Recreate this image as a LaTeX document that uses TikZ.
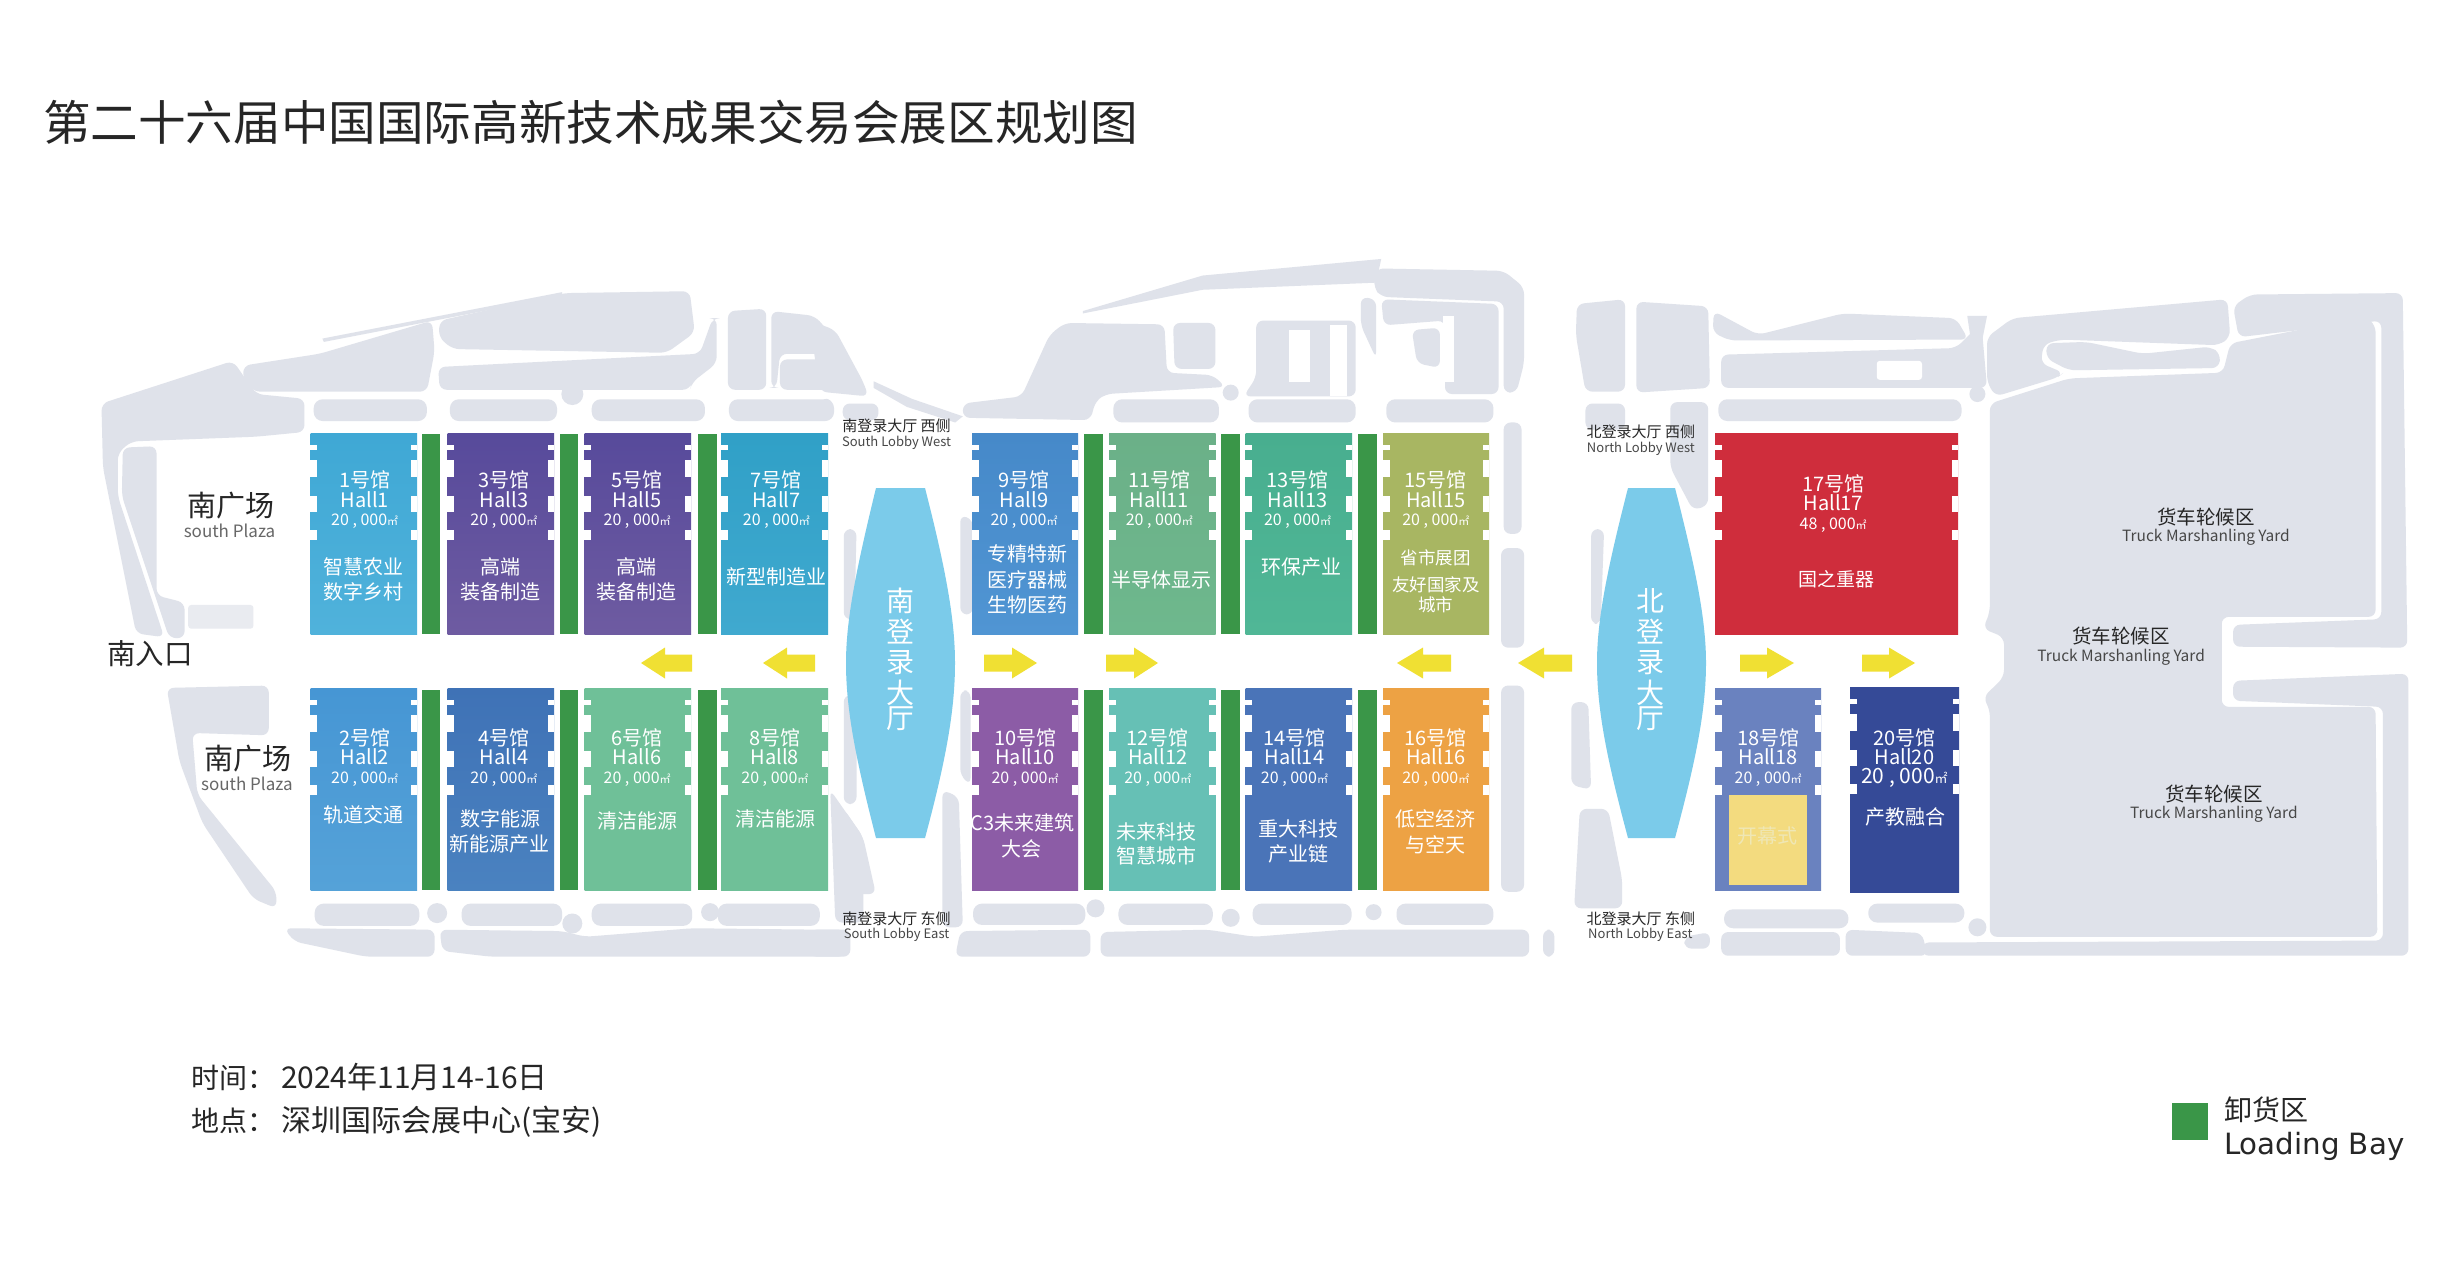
\documentclass[tikz,border=0pt]{standalone}
\usepackage{fontspec}
\setmainfont{Noto Sans CJK SC}
\newfontfamily\dejavu{DejaVu Sans}
\definecolor{plan}{HTML}{DFE2EA}
\definecolor{bar}{HTML}{3A9648}
\definecolor{lobby}{HTML}{7BCBEA}
\definecolor{arrowy}{HTML}{F0E033}
\definecolor{ink}{HTML}{262626}
\definecolor{stagefill}{HTML}{F3DB7F}
\definecolor{stagetext}{HTML}{EFE7B5}
\newcounter{nn}
\tikzset{
  pl/.style={fill=plan,draw=none,rounded corners=7pt},
  pill/.style={fill=plan,draw=none,rounded corners=9pt},
  txt/.style={inner sep=0pt,outer sep=0pt,align=center},
  hallbox/.style={anchor=north west,inner sep=0pt,outer sep=0pt,draw=none},
  barbox/.style={anchor=north west,inner sep=0pt,outer sep=0pt,draw=none,fill=bar},
}
\newcommand\tx[5]{\stepcounter{nn}\node[txt,text=#1] (t\thenn) at (#3,#4) {\fontsize{#2}{#2}\selectfont #5};}
\newcommand\hallrect[7]{% name x1 y1 x2 y2 top bottom
  \definecolor{hc1}{HTML}{#6}\definecolor{hc2}{HTML}{#7}%
  \node[hallbox,top color=hc1,bottom color=hc2,minimum width=#4 pt-#2 pt,minimum height=#5 pt-#3 pt] (#1) at (#2,#3) {};
  \foreach \a/\b in {12/17,27/44,63/79,97/107}{
    \fill[white] (#2-.1,#3+\a) rectangle (#2+6.5,#3+\b);
    \fill[white] (#4+.1,#3+\a) rectangle (#4-6.5,#3+\b);
  }}
\newcommand\barb[2]{\stepcounter{nn}\node[barbox,minimum width=18.5pt,minimum height=200pt] (b\thenn) at (#1,#2) {};}
\newcommand\head[6]{%
  \tx{white}{20}{#1}{#2}{#5号馆}
  \tx{white}{20}{#1}{#3}{Hall#5}
  \tx{white}{16}{#1}{#4}{#6 , 000{\fontsize{11}{11}\selectfont ㎡}}}
\newcommand\arrL[3]{\fill[arrowy] (#3,663) -- (#2,647.5) -- (#2,654.5) -- (#1,654.5) -- (#1,671.5) -- (#2,671.5) -- (#2,678.5) -- cycle;}
\begin{document}
\begin{tikzpicture}[x=1pt,y=-1pt]
\useasboundingbox (0,0) rectangle (2447,1279);
\fill[white] (0,0) rectangle (2447,1279);

%% ---------- site plan, zone 1
\begin{scope}[shift={(80,240)},x=0.5102pt,y=-0.474pt]
\fill[pl] (42,345) -- (300,255) -- (345,325) -- (440,335) -- (440,405) -- (345,415) -- (100,425) -- (74,450) -- (74,540) -- (165,838) -- (110,830) -- (45,480) -- cycle;
\fill[pl] (84,438) -- (150,435) -- (150,750) -- (205,765) -- (205,840) -- (175,840) -- (82,540) -- cycle;
\fill[plan!70,rounded corners=3pt] (212,770) rectangle (340,820);
\fill[pl] (170,945) -- (370,940) -- (370,1045) -- (220,1040) -- (230,1170) -- (385,1375) -- (385,1410) -- (340,1390) -- (240,1230) -- (195,1100) -- cycle;
\fill[pl] (320,265) -- (470,240) -- (690,170) -- (695,235) -- (680,320) -- (340,320) -- (320,295) -- cycle;
\fill[pl] (705,170) -- (950,112) -- (1195,108) -- (1205,195) -- (1150,238) -- (730,230) -- (703,205) -- cycle;
\fill[plan] (475,208) -- (945,110) -- (945,118) -- (478,215) -- cycle;
\fill[pl] (702,268) -- (1215,240) -- (1240,165) -- (1248,165) -- (1248,260) -- (1200,300) -- (1195,316) -- (985,316) -- (945,316) -- (705,316) -- cycle;
\fill[pl] (1270,150) -- (1345,145) -- (1345,316) -- (1270,316) -- cycle;
\fill[pl] (1355,150) -- (1440,160) -- (1465,190) -- (1465,240) -- (1372,240) -- (1365,312) -- (1355,312) -- cycle;
\fill[pl] (1372,252) -- (1470,252) -- (1510,316) -- (1372,316) -- cycle;
\fill[plan] (965,325) circle[radius=11pt];
\fill[pill] (458,336) rectangle (680,382);
\fill[pill] (725,336) rectangle (935,382);
\fill[pill] (1003,336) rectangle (1225,382);
\fill[pill] (1272,336) rectangle (1478,382);
\fill[pill] (460,1400) rectangle (665,1447);
\fill[pill] (748,1400) rectangle (945,1447);
\fill[pill] (1003,1400) rectangle (1200,1447);
\fill[pill] (1250,1400) rectangle (1450,1447);
\fill[plan] (700,1420) circle[radius=10pt];
\fill[plan] (965,1442) circle[radius=10pt];
\fill[plan] (1235,1418) circle[radius=9pt];
\fill[pl] (705,1455) -- (945,1458) -- (990,1470) -- (1200,1452) -- (1450,1455) -- (1510,1455) -- (1510,1512) -- (805,1512) -- (710,1500) -- cycle;
\fill[pl] (400,1452) -- (695,1455) -- (695,1512) -- (560,1512) -- (420,1480) -- cycle;
\fill[pl] (1495,345) -- (1565,345) -- (1565,380) -- (1495,380) -- cycle;
\fill[pl] (1497,610) -- (1522,610) -- (1518,800) -- (1497,800) -- cycle;
\fill[pl] (1497,960) -- (1522,960) -- (1522,1190) -- (1497,1190) -- cycle;
\fill[pl] (1497,1200) -- (1535,1260) -- (1560,1380) -- (1497,1380) -- cycle;
\end{scope}

%% ---------- site plan, zone 2
\begin{scope}[shift={(820,240)},x=0.5102pt,y=-0.474pt]
\fill[pl] (-20,170) -- (30,190) -- (85,300) -- (95,330) -- (0,320) -- (-10,250) -- cycle;
\fill[plan] (105,298) -- (180,335) -- (280,372) -- (265,385) -- (170,352) -- (105,312) -- cycle;
\fill[pl] (0,335) -- (25,335) -- (25,380) -- (0,380) -- cycle;
\fill[pl] (280,345) -- (395,330) -- (450,200) -- (480,175) -- (675,178) -- (680,280) -- (770,285) -- (795,310) -- (560,325) -- (540,340) -- (530,380) -- (280,375) -- cycle;
\fill[pl] (692,175) -- (775,175) -- (775,272) -- (695,272) -- cycle;
\fill[pl] (855,170) -- (1050,170) -- (1050,330) -- (830,330) -- (855,290) -- cycle;
\fill[white] (920,190) rectangle (960,300);
\fill[white] (1000,180) rectangle (1032,330);
\fill[plan] (515,150) -- (750,75) -- (1100,40) -- (1090,90) -- (750,105) -- (515,155) -- cycle;
\fill[pl] (1090,60) -- (1340,65) -- (1380,100) -- (1380,260) -- (1365,322) -- (1340,322) -- (1340,130) -- (1100,120) -- (1085,100) -- cycle;
\fill[pl] (1060,120) -- (1090,125) -- (1090,250) -- (1060,180) -- cycle;
\fill[pl] (1100,125) -- (1330,135) -- (1330,325) -- (1225,325) -- (1225,170) -- (1105,180) -- cycle;
\fill[white] (1222,160) rectangle (1243,300);
\fill[pl] (1160,190) -- (1215,185) -- (1215,270) -- (1170,260) -- cycle;
\fill[plan] (805,322) circle[radius=8pt];
\fill[pill] (575,336) rectangle (782,385);
\fill[pill] (840,336) rectangle (1050,385);
\fill[pill] (1110,336) rectangle (1320,385);
\fill[pl] (1340,385) -- (1375,385) -- (1375,620) -- (1340,620) -- cycle;
\fill[pl] (1335,650) -- (1380,650) -- (1380,860) -- (1335,860) -- cycle;
\fill[pl] (1335,940) -- (1380,940) -- (1380,1375) -- (1335,1375) -- cycle;
\fill[pill] (300,1400) -- (520,1400) -- (520,1445) -- (300,1445) -- cycle;
\fill[plan] (540,1410) circle[radius=9pt];
\fill[pill] (585,1400) rectangle (770,1445);
\fill[plan] (805,1430) circle[radius=9pt];
\fill[pill] (848,1400) rectangle (1042,1445);
\fill[plan] (1085,1418) circle[radius=8pt];
\fill[pill] (1130,1400) rectangle (1320,1445);
\fill[pl] (275,1458) -- (530,1455) -- (530,1512) -- (265,1512) -- cycle;
\fill[pl] (550,1460) -- (760,1455) -- (850,1470) -- (1030,1455) -- (1390,1455) -- (1390,1512) -- (550,1512) -- cycle;
\fill[pl] (-20,1455) -- (50,1455) -- (50,1512) -- (-20,1512) -- cycle;
\fill[pl] (240,1160) -- (272,1175) -- (280,1450) -- (240,1450) -- cycle;
\fill[pl] (20,1160) -- (85,1260) -- (85,1440) -- (30,1440) -- cycle;
\fill[pl] (275,580) -- (300,590) -- (300,790) -- (275,790) -- cycle;
\fill[pl] (275,950) -- (295,950) -- (295,1150) -- (275,1130) -- cycle;
\end{scope}

%% ---------- site plan, zone 3
\begin{scope}[shift={(1560,240)},x=0.5656pt,y=-0.474pt]
\fill[pl] (30,135) -- (115,125) -- (115,320) -- (45,320) -- (28,200) -- cycle;
\fill[pl] (135,130) -- (262,140) -- (265,312) -- (135,322) -- cycle;
\fill[pl] (272,150) -- (350,200) -- (500,155) -- (700,165) -- (722,210) -- (300,212) -- (270,195) -- cycle;
\fill[plan] (720,160) -- (755,160) -- (745,220) -- (725,200) -- cycle;
\fill[pl] (285,242) -- (700,228) -- (745,175) -- (755,312) -- (285,312) -- cycle;
\fill[pill] (280,336) rectangle (710,382);
\fill[white,rounded corners=3pt] (560,255) rectangle (640,295);
\fill[plan] (738,325) circle[radius=8pt];
\fill[pl] (45,345) -- (115,345) -- (115,400) -- (45,400) -- cycle;
\fill[pl] (195,342) -- (262,342) -- (262,560) -- (235,570) -- (195,480) -- cycle;
\fill[pl] (55,610) -- (78,610) -- (72,810) -- (55,810) -- cycle;
\fill[pl] (20,975) -- (50,975) -- (55,1160) -- (20,1150) -- cycle;
\fill[pl] (35,1200) -- (85,1200) -- (110,1350) -- (110,1410) -- (25,1410) -- cycle;
\fill[pl] (760,345) -- (900,292) -- (1172,280) -- (1185,218) -- (1425,162) -- (1442,180) -- (1442,795) -- (1170,795) -- (1170,985) -- (1442,985) -- (1445,1470) -- (760,1470) -- (760,990) -- (748,965) -- (785,922) -- (785,838) -- (748,820) -- (760,785) -- cycle;
\fill[pl] (755,205) -- (800,165) -- (1180,125) -- (1185,205) -- (1165,222) -- (885,210) -- (855,220) -- (850,260) -- (890,280) -- (880,290) -- (770,330) -- (755,300) -- cycle;
\fill[pl] (860,218) -- (930,215) -- (1030,240) -- (1150,225) -- (1168,240) -- (1165,270) -- (900,275) -- (860,250) -- cycle;
\fill[pl] (1190,140) -- (1220,115) -- (1490,112) -- (1498,860) -- (1190,858) -- (1190,812) -- (1452,800) -- (1452,170) -- (1200,205) -- cycle;
\fill[pl] (1190,930) -- (1500,915) -- (1500,1510) -- (640,1510) -- (640,1482) -- (1455,1478) -- (1455,985) -- (1190,972) -- cycle;
\fill[pill] (290,1412) rectangle (510,1452);
\fill[pill] (545,1400) rectangle (715,1440);
\fill[plan] (738,1450) circle[radius=9pt];
\fill[pl] (505,1455) -- (640,1462) -- (650,1510) -- (505,1510) -- cycle;
\fill[pl] (285,1460) -- (495,1460) -- (495,1510) -- (285,1510) -- cycle;
\fill[pl] (220,1470) -- (265,1460) -- (265,1495) -- (220,1495) -- cycle;
\fill[pl] (-30,1455) -- (-10,1455) -- (-10,1512) -- (-30,1512) -- cycle;
\end{scope}

%% ---------- halls
\hallrect{h1}{310.5}{433}{417}{634}{3FA8D5}{50B2DB}
\hallrect{h3}{447.5}{433}{554}{634}{574A9B}{6E5BA1}
\hallrect{h5}{584.5}{433}{691}{634}{574A9B}{6E5BA1}
\hallrect{h7}{721}{433}{828}{634}{30A0C7}{40A9CF}
\hallrect{h9}{972}{433}{1078}{634}{4689C9}{5095D3}
\hallrect{h11}{1109}{433}{1215.5}{634}{6BB088}{6EB88D}
\hallrect{h13}{1245.5}{433}{1352}{634}{48AE8F}{50B796}
\hallrect{h15}{1383}{433}{1489}{634}{A8B662}{A8B662}
\hallrect{h17}{1715}{433}{1958}{634}{CF2D3C}{CF2D3C}
\hallrect{h2}{310.5}{688}{417}{890}{4696D4}{55A2D8}
\hallrect{h4}{447.5}{688}{554}{890}{3F72B6}{4A82C0}
\hallrect{h6}{584.5}{688}{691}{890}{6FC098}{6FC098}
\hallrect{h8}{721}{688}{828}{890}{6FC098}{6FC098}
\hallrect{h10}{972}{688}{1078}{890}{8C5CA6}{8C5CA6}
\hallrect{h12}{1109}{688}{1215.5}{890}{66C0B5}{66C0B5}
\hallrect{h14}{1245.5}{688}{1352}{890}{4A74B8}{4A74B8}
\hallrect{h16}{1383}{688}{1489}{890}{EDA244}{EDA244}
\hallrect{h18}{1715}{688}{1821}{890}{6A82BF}{6A82BF}
\hallrect{h20}{1850}{687}{1959}{892}{354A97}{354A97}
\fill[stagefill] (1729,795) rectangle (1807,885);

\foreach \x in {421.5,559.5,698,1084,1221,1358}{\barb{\x}{434}\barb{\x}{690}}

%% ---------- lobbies
\fill[lobby] (876,488) .. controls (856,570) and (846,620) .. (846,663) .. controls (846,710) and (856,760) .. (876,838) -- (925,838) .. controls (946,760) and (955,710) .. (955,663) .. controls (955,620) and (946,570) .. (925,488) -- cycle;
\fill[lobby] (1628,488) .. controls (1607,570) and (1597,620) .. (1597,663) .. controls (1597,710) and (1607,760) .. (1628,838) -- (1675,838) .. controls (1696,760) and (1706,710) .. (1706,663) .. controls (1706,620) and (1696,570) .. (1675,488) -- cycle;

%% ---------- yellow arrows
\arrL{692}{665}{641}
\arrL{815}{787}{763}
\arrL{984}{1012}{1037}
\arrL{1106}{1134}{1158}
\arrL{1451}{1423}{1397}
\arrL{1572}{1544}{1518}
\arrL{1740}{1767}{1794}
\arrL{1862}{1889}{1915}

%% ---------- text, zone 1
\begin{scope}[shift={(80,240)},x=0.5102pt,y=-0.474pt]
\head{558}{505}{547}{593}{1}{20}
\head{831}{505}{547}{593}{3}{20}
\head{1092}{505}{547}{593}{5}{20}
\head{1365}{505}{547}{593}{7}{20}
\head{558}{1050}{1090}{1138}{2}{20}
\head{831}{1050}{1090}{1138}{4}{20}
\head{1092}{1050}{1090}{1138}{6}{20}
\head{1362}{1050}{1090}{1138}{8}{20}
\tx{white}{20}{556}{690}{智慧农业}
\tx{white}{20}{556}{742}{数字乡村}
\tx{white}{20}{825}{690}{高端}
\tx{white}{20}{825}{742}{装备制造}
\tx{white}{20}{1090}{690}{高端}
\tx{white}{20}{1090}{742}{装备制造}
\tx{white}{20}{1365}{710}{新型制造业}
\tx{white}{20}{556}{1213}{轨道交通}
\tx{white}{20}{825}{1222}{数字能源}
\tx{white}{20}{823}{1275}{新能源产业}
\tx{white}{20}{1092}{1226}{清洁能源}
\tx{white}{20}{1364}{1222}{清洁能源}
\tx{ink}{29}{296}{560}{南广场}
\tx{ink!70}{17}{293}{613}{south Plaza}
\tx{ink}{29}{330}{1095}{南广场}
\tx{ink!70}{17}{327}{1147}{south Plaza}
\tx{ink}{28.5}{137}{873}{南入口}
\end{scope}

%% ---------- text, zone 2
\begin{scope}[shift={(820,240)},x=0.5102pt,y=-0.474pt]
\head{400}{505}{547}{593}{9}{20}
\head{665}{505}{547}{593}{11}{20}
\head{936}{505}{547}{593}{13}{20}
\head{1207}{505}{547}{593}{15}{20}
\head{402}{1050}{1090}{1138}{10}{20}
\head{662}{1050}{1090}{1138}{12}{20}
\head{930}{1050}{1090}{1138}{14}{20}
\head{1207}{1050}{1090}{1138}{16}{20}
\tx{white}{20}{406}{663}{专精特新}
\tx{white}{20}{406}{716}{医疗器械}
\tx{white}{20}{406}{769}{生物医药}
\tx{white}{20}{670}{716}{半导体显示}
\tx{white}{20}{943}{690}{环保产业}
\tx{white}{17.5}{1207}{670}{省市展团}
\tx{white}{17.5}{1207}{728}{友好国家及}
\tx{white}{17.5}{1207}{770}{城市}
\tx{white}{20}{397}{1230}{C3未来建筑}
\tx{white}{20}{395}{1285}{大会}
\tx{white}{20}{660}{1248}{未来科技}
\tx{white}{20}{660}{1300}{智慧城市}
\tx{white}{20}{938}{1242}{重大科技}
\tx{white}{20}{938}{1295}{产业链}
\tx{white}{20}{1207}{1222}{低空经济}
\tx{white}{20}{1207}{1275}{与空天}
\stepcounter{nn}\node[txt,text=white,text width=30pt] (lobS) at (158,885) {\fontsize{28}{30.5}\selectfont 南\\登\\录\\大\\厅};
\tx{ink}{15}{150}{393}{南登录大厅 西侧}
\tx{ink!85}{13}{150}{428}{South Lobby West}
\tx{ink}{15}{150}{1432}{南登录大厅 东侧}
\tx{ink!85}{13}{150}{1466}{South Lobby East}
\end{scope}

%% ---------- text, zone 3
\begin{scope}[shift={(1560,240)},x=0.5656pt,y=-0.474pt]
\stepcounter{nn}\node[txt,text=white,text width=30pt] (lobN) at (160,885) {\fontsize{28}{30.5}\selectfont 北\\登\\录\\大\\厅};
\head{483}{515}{555}{602}{17}{48}
\tx{white}{19}{488}{716}{国之重器}
\head{368}{1050}{1090}{1138}{18}{20}
\tx{stagetext}{20}{367}{1258}{开幕式}
\tx{white}{20}{609}{1050}{20号馆}
\tx{white}{20}{609}{1090}{Hall20}
\tx{white}{21}{609}{1134}{20 , 000{\fontsize{13}{13}\selectfont ㎡}}
\tx{white}{20}{611}{1218}{产教融合}
\tx{ink}{15}{143}{405}{北登录大厅 西侧}
\tx{ink!85}{13}{143}{440}{North Lobby West}
\tx{ink}{15}{143}{1432}{北登录大厅 东侧}
\tx{ink!85}{13}{142}{1466}{North Lobby East}
\tx{ink}{19.5}{1142}{584}{货车轮候区}
\tx{ink!85}{15.5}{1142}{628}{Truck Marshanling Yard}
\tx{ink}{19.5}{992}{836}{货车轮候区}
\tx{ink!85}{15.5}{992}{880}{Truck Marshanling Yard}
\tx{ink}{19.5}{1156}{1168}{货车轮候区}
\tx{ink!85}{15.5}{1156}{1212}{Truck Marshanling Yard}
\end{scope}

%% ---------- title, information, legend
\node[txt,anchor=west,text=ink] (title) at (43,122) {\fontsize{47.6}{47.6}\selectfont 第二十六届中国国际高新技术成果交易会展区规划图};
\node[txt,anchor=west,text=ink] (when) at (191,1077) {\fontsize{28}{28}\selectfont 时间：\hspace{6pt}\fontsize{30}{30}\selectfont 2024年11月14-16日};
\node[txt,anchor=west,text=ink] (where) at (191,1122) {\fontsize{28}{28}\selectfont 地点：\hspace{6pt}\fontsize{30}{30}\selectfont 深圳国际会展中心(宝安)};
\node[barbox,minimum width=36pt,minimum height=37pt] (key) at (2172,1103) {};
\node[txt,anchor=west,text=ink] (key1) at (2224,1110) {\fontsize{28}{28}\selectfont 卸货区};
\node[txt,anchor=west,text=ink] (key2) at (2224,1146) {\dejavu\fontsize{29.3}{29.3}\selectfont Loading Bay};
\end{tikzpicture}
\end{document}
